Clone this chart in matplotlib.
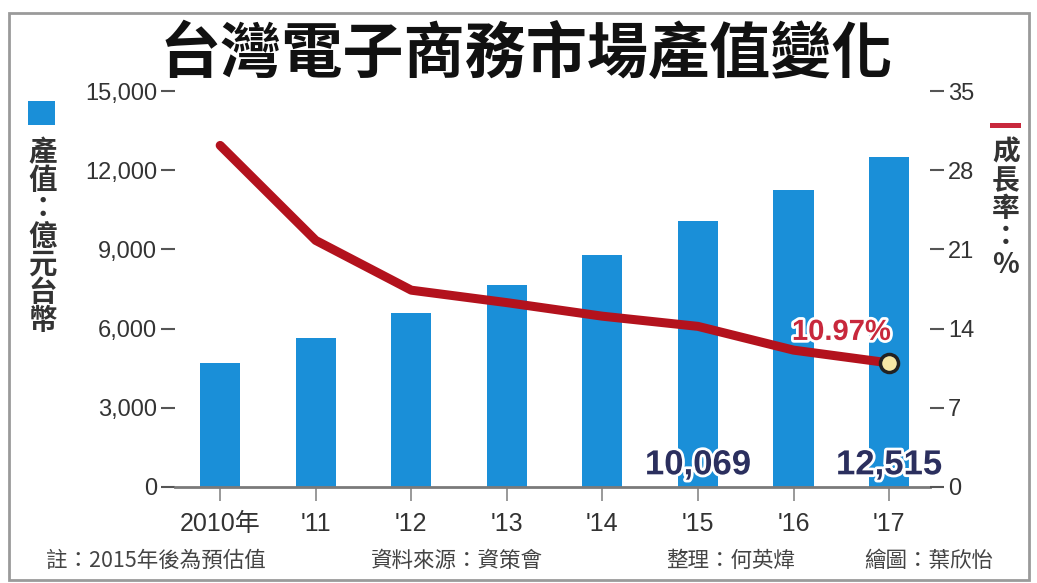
import matplotlib
matplotlib.use("Agg")
import matplotlib.pyplot as plt
import matplotlib.patheffects as pe
from matplotlib.patches import Rectangle

# ---- data ----
years = ["2010年", "'11", "'12", "'13", "'14", "'15", "'16", "'17"]
output_value = [4700, 5650, 6600, 7650, 8800, 10069, 11250, 12515]   # 億元台幣
growth_rate = [30.2, 21.8, 17.4, 16.3, 15.1, 14.2, 12.1, 10.97]      # %
left_ticks = [0, 3000, 6000, 9000, 12000, 15000]
left_ticklabels = ["0", "3,000", "6,000", "9,000", "12,000", "15,000"]
right_ticks = [0, 7, 14, 21, 28, 35]

title = "台灣電子商務市場產值變化"
left_label = "產值：億元台幣"
right_label = "成長率：%"
footer = ["註：2015年後為預估值", "資料來源：資策會", "整理：何英煒", "繪圖：葉欣怡"]

CJK = ["Noto Sans CJK TC", "DejaVu Sans"]
NUM = ["Liberation Sans", "Noto Sans CJK TC"]
BAR = "#1a8fd8"
RED = "#b3121d"
TXT = "#333333"

fig = plt.figure(figsize=(10.37, 5.83), dpi=100)
fig.patch.set_facecolor("white")

# outer frame
fig.add_artist(Rectangle((0.009, 0.005), 0.983, 0.972, transform=fig.transFigure,
                         fill=False, edgecolor="#9a9a9a", linewidth=2))

ax = fig.add_axes([0.169, 0.1647, 0.728, 0.679])
ax2 = ax.twinx()

x = list(range(len(years)))
ax.bar(x, output_value, width=0.42, color=BAR, zorder=2)
ax.set_xlim(-0.47, 7.43)
ax.set_ylim(0, 15000)
ax.set_yticks(left_ticks)
ax.set_yticklabels(left_ticklabels)
ax.set_xticks(x)
ax.set_xticklabels(years)

for s in ["top", "right", "left"]:
    ax.spines[s].set_visible(False)
ax.spines["bottom"].set_color("#7a7a7a")
ax.spines["bottom"].set_linewidth(2)
ax.tick_params(axis="y", length=10, width=1.5, color="#555555", pad=3,
               labelsize=17, labelcolor=TXT)
ax.tick_params(axis="x", length=10, width=1.2, color="#888888", pad=8,
               labelsize=18, labelcolor=TXT)
for lab in ax.get_yticklabels():
    lab.set_family(NUM)
for lab in ax.get_xticklabels():
    lab.set_family(NUM)

ax2.plot(x, growth_rate, color=RED, linewidth=6.5, solid_capstyle="round",
         solid_joinstyle="round", zorder=3)
ax2.plot(x[-1], growth_rate[-1], marker="o", markersize=13,
         markerfacecolor="#f6e8a6", markeredgecolor="#222222", markeredgewidth=2.5, zorder=4)
ax2.set_ylim(0, 35)
ax2.set_yticks(right_ticks)
for s in ["top", "right", "left", "bottom"]:
    ax2.spines[s].set_visible(False)
ax2.tick_params(axis="y", length=10, width=1.5, color="#555555", pad=3,
                labelsize=17, labelcolor=TXT)
for lab in ax2.get_yticklabels():
    lab.set_family(NUM)

glow = [pe.withStroke(linewidth=4, foreground="white")]
for i in (5, 7):
    ax.text(x[i], 480, f"{output_value[i]:,}", ha="center", va="baseline",
            fontsize=25, fontweight="bold", color="#2b2f5e", family=NUM,
            path_effects=glow, zorder=5)
ax2.text(x[-1] - 0.5, growth_rate[-1] + 1.5, f"{growth_rate[-1]:.2f}%", ha="center",
         va="bottom", fontsize=21, fontweight="bold", color="#c8283c", family=NUM,
         path_effects=glow, zorder=5)

# title
fig.text(0.508, 0.905, title, ha="center", va="center", fontsize=44,
         fontweight="bold", color="#111111", family=CJK)

# left axis legend / label
fig.add_artist(Rectangle((0.027, 0.785), 0.026, 0.042, transform=fig.transFigure,
                         facecolor=BAR, edgecolor="none"))
fig.text(0.041, 0.762, "\n".join(left_label), ha="center", va="top", fontsize=20.5,
         fontweight="bold", color=TXT, family=CJK, linespacing=1.0)

# right axis legend / label
fig.add_artist(Rectangle((0.955, 0.780), 0.030, 0.009, transform=fig.transFigure,
                         facecolor="#c8283c", edgecolor="none"))
fig.text(0.970, 0.762, "\n".join(right_label), ha="center", va="top", fontsize=20,
         fontweight="bold", color=TXT, family=CJK, linespacing=1.0)

# footer
for xpos, t in zip([0.044, 0.358, 0.642, 0.833], footer):
    fig.text(xpos, 0.038, t, ha="left", va="center", fontsize=15.5,
             color="#444444", family=CJK)

fig.savefig("out.png", dpi=100, facecolor="white")
